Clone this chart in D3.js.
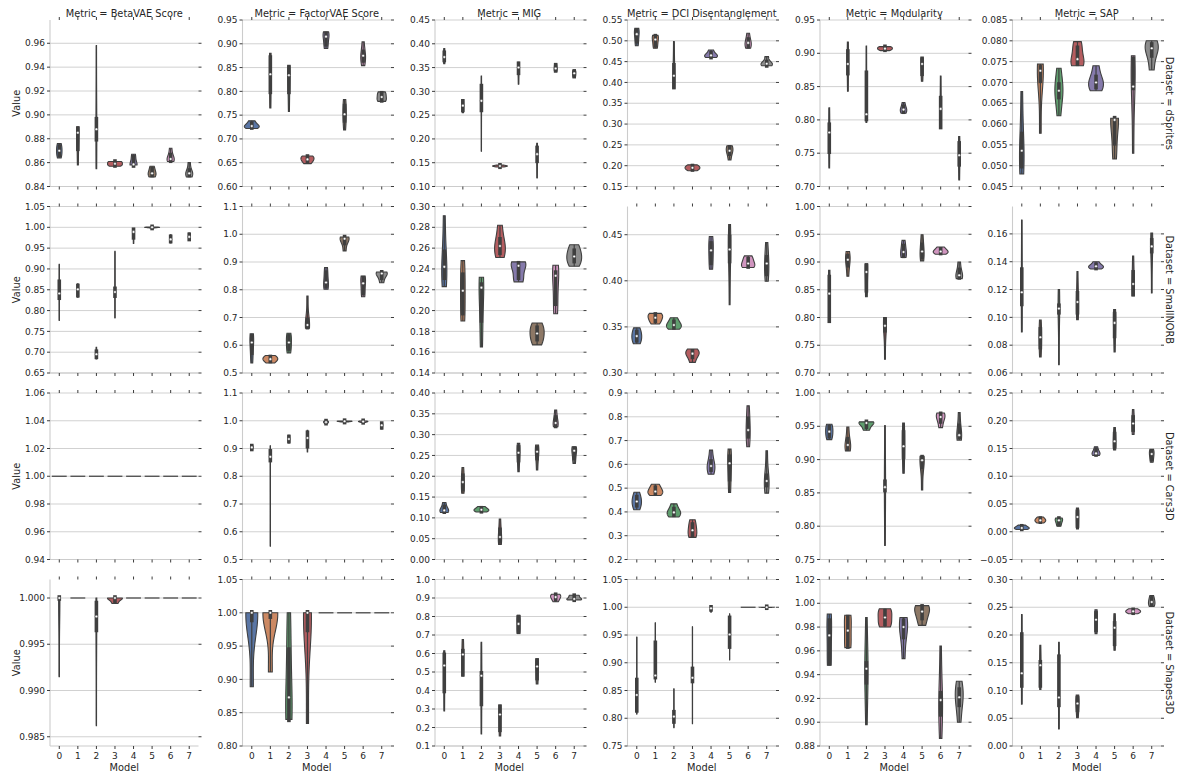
<!DOCTYPE html>
<html>
<head>
<meta charset="utf-8">
<script src="https://cdn.jsdelivr.net/npm/d3@7"></script>
<style>
  body { margin: 0; background: #fff; }
  text { font-family: "DejaVu Sans", sans-serif; fill: #262626; }
</style>
</head>
<body>
<svg id="chart" width="1177" height="775"></svg>
<script>
// categories
var models = [0, 1, 2, 3, 4, 5, 6, 7];
var metrics = ["BetaVAE Score", "FactorVAE Score", "MIG", "DCI Disentanglement", "Modularity", "SAP"];
var datasets = ["dSprites", "SmallNORB", "Cars3D", "Shapes3D"];
var palette = ["#4C72B0", "#DD8452", "#55A868", "#C44E52", "#8172B3", "#937860", "#DA8BC3", "#8C8C8C"];

// values: per model min, q1, median, q3, max
var dspBeta = [[0.864,0.867,0.870,0.873,0.876],[0.858,0.872,0.885,0.888,0.890],[0.855,0.880,0.888,0.896,0.958],[0.857,0.858,0.859,0.8605,0.861],[0.858,0.858,0.8585,0.864,0.867],[0.848,0.850,0.851,0.854,0.857],[0.861,0.862,0.863,0.866,0.872],[0.848,0.850,0.851,0.853,0.860]];
var dspFactor = [[0.722,0.725,0.727,0.731,0.738],[0.765,0.800,0.836,0.870,0.880],[0.758,0.800,0.834,0.850,0.853],[0.648,0.654,0.657,0.662,0.664],[0.890,0.900,0.915,0.920,0.925],[0.719,0.740,0.752,0.768,0.783],[0.854,0.866,0.875,0.882,0.904],[0.779,0.782,0.788,0.795,0.799]];
var dspMIG = [[0.358,0.367,0.372,0.380,0.390],[0.255,0.262,0.270,0.278,0.283],[0.174,0.262,0.280,0.310,0.332],[0.141,0.1425,0.143,0.1435,0.145],[0.315,0.340,0.350,0.357,0.361],[0.118,0.155,0.168,0.180,0.191],[0.342,0.345,0.348,0.354,0.358],[0.330,0.333,0.338,0.341,0.344]];
var dspDCI = [[0.488,0.500,0.516,0.524,0.530],[0.482,0.490,0.503,0.510,0.513],[0.386,0.390,0.416,0.440,0.498],[0.188,0.192,0.195,0.198,0.202],[0.460,0.462,0.465,0.469,0.478],[0.214,0.230,0.236,0.243,0.248],[0.482,0.488,0.495,0.502,0.518],[0.440,0.442,0.445,0.448,0.462]];
var dspMod = [[0.728,0.753,0.781,0.792,0.818],[0.843,0.871,0.884,0.902,0.917],[0.796,0.802,0.8085,0.870,0.911],[0.904,0.906,0.907,0.909,0.910],[0.810,0.813,0.8155,0.819,0.826],[0.858,0.870,0.884,0.891,0.893],[0.788,0.790,0.8165,0.832,0.866],[0.710,0.734,0.747,0.764,0.775]];
var dspSAP = [[0.048,0.050,0.0536,0.0575,0.0678],[0.0578,0.0705,0.0728,0.0735,0.0744],[0.062,0.0666,0.068,0.0694,0.0734],[0.074,0.0746,0.0756,0.0782,0.0798],[0.068,0.069,0.070,0.0712,0.074],[0.0516,0.0555,0.0610,0.0613,0.0614],[0.053,0.0688,0.0690,0.0755,0.0764],[0.073,0.0766,0.0782,0.079,0.080]];

var norbBeta = [[0.776,0.832,0.841,0.868,0.911],[0.832,0.838,0.851,0.858,0.864],[0.684,0.690,0.695,0.700,0.712],[0.782,0.837,0.8445,0.851,0.9425],[0.961,0.977,0.989,0.993,0.995],[0.9985,0.9995,1.0,1.0,1.0005],[0.9625,0.968,0.971,0.976,0.982],[0.969,0.973,0.977,0.981,0.986]];
var norbFactor = [[0.536,0.575,0.610,0.630,0.641],[0.536,0.545,0.550,0.556,0.563],[0.572,0.590,0.610,0.630,0.643],[0.661,0.667,0.673,0.690,0.777],[0.802,0.815,0.826,0.860,0.880],[0.940,0.970,0.984,0.988,0.990],[0.775,0.790,0.823,0.840,0.849],[0.825,0.845,0.8585,0.861,0.864]];
var norbMIG = [[0.223,0.232,0.242,0.256,0.291],[0.190,0.198,0.219,0.234,0.248],[0.165,0.191,0.222,0.2245,0.232],[0.251,0.256,0.262,0.268,0.282],[0.2276,0.232,0.243,0.245,0.2468],[0.167,0.173,0.178,0.183,0.188],[0.197,0.207,0.2334,0.236,0.2436],[0.2426,0.248,0.252,0.257,0.2633]];
var norbDCI = [[0.3317,0.336,0.340,0.344,0.349],[0.3532,0.357,0.360,0.363,0.3647],[0.3475,0.350,0.352,0.355,0.360],[0.3115,0.318,0.321,0.323,0.326],[0.4126,0.420,0.433,0.440,0.448],[0.374,0.422,0.434,0.447,0.461],[0.4144,0.416,0.4187,0.423,0.427],[0.3996,0.408,0.4187,0.425,0.4414]];
var norbMod = [[0.791,0.795,0.843,0.872,0.885],[0.8745,0.895,0.904,0.910,0.919],[0.8375,0.850,0.882,0.893,0.896],[0.725,0.778,0.785,0.795,0.800],[0.908,0.912,0.918,0.928,0.939],[0.902,0.910,0.919,0.930,0.949],[0.914,0.917,0.919,0.922,0.927],[0.870,0.873,0.876,0.885,0.900]];
var norbSAP = [[0.0895,0.110,0.118,0.134,0.170],[0.0715,0.079,0.0857,0.091,0.098],[0.066,0.104,0.1063,0.108,0.120],[0.0984,0.104,0.111,0.117,0.133],[0.1348,0.1358,0.1367,0.1375,0.140],[0.0751,0.087,0.096,0.102,0.1056],[0.1156,0.117,0.124,0.132,0.144],[0.1176,0.148,0.151,0.155,0.1607]];

var carsBeta = [[1,1,1,1,1],[1,1,1,1,1],[1,1,1,1,1],[1,1,1,1,1],[1,1,1,1,1],[1,1,1,1,1],[1,1,1,1,1],[1,1,1,1,1]];
var carsFactor = [[0.894,0.900,0.904,0.907,0.9116],[0.548,0.860,0.870,0.888,0.910],[0.920,0.928,0.934,0.940,0.9476],[0.8876,0.910,0.938,0.955,0.9656],[0.990,0.993,0.995,0.997,0.999],[0.996,0.997,0.998,0.9985,0.999],[0.994,0.996,0.997,0.998,0.999],[0.9704,0.978,0.984,0.988,0.992]];
var carsMIG = [[0.113,0.116,0.118,0.125,0.137],[0.1594,0.170,0.186,0.200,0.221],[0.114,0.117,0.1195,0.122,0.1275],[0.036,0.045,0.054,0.070,0.097],[0.211,0.240,0.2566,0.268,0.279],[0.215,0.245,0.259,0.266,0.275],[0.319,0.322,0.328,0.340,0.359],[0.231,0.245,0.2614,0.265,0.271]];
var carsDCI = [[0.409,0.430,0.444,0.460,0.483],[0.469,0.480,0.486,0.500,0.5166],[0.3785,0.390,0.398,0.410,0.434],[0.293,0.305,0.323,0.345,0.367],[0.5585,0.580,0.593,0.610,0.660],[0.4817,0.540,0.6045,0.630,0.664],[0.674,0.720,0.744,0.790,0.846],[0.479,0.515,0.530,0.550,0.657]];
var carsMod = [[0.930,0.936,0.942,0.948,0.953],[0.913,0.917,0.922,0.930,0.949],[0.944,0.950,0.955,0.956,0.9567],[0.771,0.855,0.8586,0.866,0.951],[0.8795,0.905,0.920,0.940,0.955],[0.8546,0.890,0.899,0.903,0.905],[0.948,0.958,0.964,0.968,0.970],[0.9293,0.935,0.9367,0.950,0.9706]];
var carsSAP = [[0.004,0.006,0.0068,0.009,0.012],[0.0157,0.019,0.0205,0.023,0.0265],[0.0098,0.015,0.0205,0.023,0.0247],[0.005,0.012,0.0265,0.035,0.0426],[0.1376,0.140,0.1412,0.146,0.153],[0.1472,0.155,0.163,0.175,0.1878],[0.1753,0.185,0.195,0.205,0.220],[0.1251,0.132,0.140,0.144,0.1484]];

var shpBeta = [[0.9915,1,1,1,1],[1,1,1,1,1],[0.9862,0.9966,0.998,0.9994,1],[0.9994,0.9997,1,1,1],[1,1,1,1,1],[1,1,1,1,1],[1,1,1,1,1],[1,1,1,1,1]];
var shpFactor = [[0.889,0.990,1,1,1],[0.911,0.995,1,1,1],[0.840,0.840,0.873,0.944,1],[0.834,0.975,1,1,1],[1,1,1,1,1],[1,1,1,1,1],[1,1,1,1,1],[1,1,1,1,1]];
var shpMIG = [[0.29,0.40,0.535,0.59,0.615],[0.478,0.49,0.595,0.61,0.675],[0.165,0.33,0.48,0.49,0.66],[0.155,0.19,0.27,0.31,0.32],[0.71,0.72,0.76,0.795,0.805],[0.435,0.47,0.53,0.56,0.57],[0.88,0.895,0.905,0.915,0.92],[0.89,0.893,0.895,0.91,0.915]];
var shpDCI = [[0.8075,0.815,0.842,0.868,0.9465],[0.865,0.875,0.877,0.935,0.972],[0.783,0.795,0.803,0.810,0.853],[0.790,0.868,0.873,0.888,0.965],[0.991,0.997,0.998,0.999,0.999],[0.905,0.930,0.951,0.980,0.988],[1,1,1,1,1],[0.9995,1,1,1,1]];
var shpMod = [[0.948,0.950,0.973,0.985,0.991],[0.9627,0.964,0.977,0.988,0.990],[0.898,0.934,0.945,0.949,0.988],[0.980,0.983,0.988,0.993,0.9954],[0.9535,0.972,0.980,0.985,0.988],[0.9814,0.988,0.993,0.997,0.998],[0.8864,0.907,0.9186,0.924,0.964],[0.900,0.915,0.921,0.927,0.9345]];
var shpSAP = [[0.0755,0.110,0.131,0.200,0.237],[0.1018,0.110,0.1456,0.150,0.1815],[0.0305,0.075,0.0875,0.160,0.187],[0.051,0.066,0.0767,0.085,0.0917],[0.2025,0.210,0.2276,0.238,0.2456],[0.1725,0.185,0.213,0.220,0.2384],[0.2384,0.241,0.2426,0.2445,0.2474],[0.2516,0.2555,0.2594,0.265,0.2713]];

// y axis limits, tick step and decimals per panel (rows = datasets, cols = metrics)
var yDomains = [
    [[0.84,0.9795],[0.60,0.95],[0.10,0.45],[0.15,0.55],[0.70,0.95],[0.045,0.085]],
    [[0.65,1.05],[0.5,1.1],[0.14,0.30],[0.30,0.4806],[0.70,1.00],[0.06,0.1797]],
    [[0.94,1.06],[0.5,1.1],[0.00,0.40],[0.2,0.9],[0.75,1.00],[-0.05,0.25]],
    [[0.984,1.002],[0.80,1.05],[0.1,1.0],[0.75,1.05],[0.88,1.02],[0.00,0.30]]
];
var yTickSteps = [
    [0.02,0.05,0.05,0.05,0.05,0.005],
    [0.05,0.1,0.02,0.05,0.05,0.02],
    [0.02,0.1,0.05,0.1,0.05,0.05],
    [0.005,0.05,0.1,0.05,0.02,0.05]
];
var yDecimals = [
    [2,2,2,2,2,3],
    [2,1,2,2,2,2],
    [2,1,2,1,2,2],
    [3,2,1,2,2,2]
];

var panels = [
    [dspBeta, dspFactor, dspMIG, dspDCI, dspMod, dspSAP],
    [norbBeta, norbFactor, norbMIG, norbDCI, norbMod, norbSAP],
    [carsBeta, carsFactor, carsMIG, carsDCI, carsMod, carsSAP],
    [shpBeta, shpFactor, shpMIG, shpDCI, shpMod, shpSAP]
];

// layout
var colLeft = 50, colGap = 192.5, panelW = 148.5;
var rowTop = 20, rowGap = 186.5, panelH = 166.5;
var gray = "#3f3f3f";
var fills = palette.map(function(c){ var h = d3.hsl(c); h.s *= 0.75; return h.formatHex(); });

var svg = d3.select("#chart");

// gaussian kde, scott bandwidth, cut at data range
function kde(vals){
    var n = vals.length;
    var bw = d3.deviation(vals) * Math.pow(n, -0.2);
    var lo = d3.min(vals), hi = d3.max(vals);
    return d3.range(100).map(function(i){
        var t = lo + (hi - lo) * i / 99;
        var s = d3.sum(vals, function(v){ return Math.exp(-0.5 * Math.pow((t - v) / bw, 2)); });
        return [t, s / (n * bw * Math.sqrt(2 * Math.PI))];
    });
}

panels.forEach(function(row, r){
    row.forEach(function(data, c){
        var left = colLeft + c * colGap, top = rowTop + r * rowGap;
        var right = left + panelW, bottom = top + panelH;
        var x = d3.scaleBand().domain(models).range([left, right]);
        var y = d3.scaleLinear().domain(yDomains[r][c]).range([bottom, top]);
        var step = yTickSteps[r][c], dom = yDomains[r][c];
        var ticks = d3.range(Math.ceil(dom[0] / step - 1e-6), Math.floor(dom[1] / step + 1e-6) + 1)
            .map(function(k){ return k * step; });
        var fmt = d3.format("." + yDecimals[r][c] + "f");
        var g = svg.append("g");

        // grid
        g.selectAll(".grid").data(ticks).enter().append("line")
            .attr("x1", left).attr("x2", right)
            .attr("y1", function(d){ return y(d); }).attr("y2", function(d){ return y(d); })
            .attr("stroke", "#cccccc").attr("stroke-width", 0.9);

        // spines
        g.append("line").attr("x1", left).attr("x2", left).attr("y1", top).attr("y2", bottom)
            .attr("stroke", "#cccccc").attr("stroke-width", 1.1);
        g.append("line").attr("x1", left).attr("x2", right).attr("y1", bottom).attr("y2", bottom)
            .attr("stroke", "#cccccc").attr("stroke-width", 1.1);

        // tick marks on all four sides
        ticks.forEach(function(t){
            g.append("line").attr("x1", left - 3).attr("x2", left).attr("y1", y(t)).attr("y2", y(t))
                .attr("stroke", "#262626").attr("stroke-width", 0.9);
            g.append("line").attr("x1", right).attr("x2", right + 3).attr("y1", y(t)).attr("y2", y(t))
                .attr("stroke", "#262626").attr("stroke-width", 0.9);
            g.append("text").attr("x", left - 5).attr("y", y(t)).attr("dy", "0.35em")
                .attr("text-anchor", "end").attr("font-size", 9).text(fmt(t));
        });
        models.forEach(function(m){
            var cx = x(m) + x.bandwidth() / 2;
            g.append("line").attr("x1", cx).attr("x2", cx).attr("y1", bottom).attr("y2", bottom + 3)
                .attr("stroke", "#262626").attr("stroke-width", 0.9);
            g.append("line").attr("x1", cx).attr("x2", cx).attr("y1", top - 3).attr("y2", top)
                .attr("stroke", "#262626").attr("stroke-width", 0.9);
            if (r === panels.length - 1) {
                g.append("text").attr("x", cx).attr("y", bottom + 12.5)
                    .attr("text-anchor", "middle").attr("font-size", 9).text(m);
            }
        });

        // violins
        var half = 0.4 * x.bandwidth();
        var dens = data.map(function(v){ return d3.max(v) > d3.min(v) ? kde(v) : null; });
        var maxD = d3.max(dens, function(d){ return d ? d3.max(d, function(p){ return p[1]; }) : 0; });

        data.forEach(function(v, i){
            var cx = x(models[i]) + x.bandwidth() / 2;
            if (!dens[i]) {
                g.append("line").attr("x1", cx - half).attr("x2", cx + half)
                    .attr("y1", y(v[0])).attr("y2", y(v[0]))
                    .attr("stroke", gray).attr("stroke-width", 1.2);
                return;
            }
            var area = d3.area()
                .y(function(p){ return y(p[0]); })
                .x0(function(p){ return cx - p[1] / maxD * half; })
                .x1(function(p){ return cx + p[1] / maxD * half; });
            g.append("path").attr("d", area(dens[i]))
                .attr("fill", fills[i]).attr("stroke", gray).attr("stroke-width", 1.1);

            var sorted = v.slice().sort(d3.ascending);
            var q1 = d3.quantile(sorted, 0.25), q2 = d3.quantile(sorted, 0.5), q3 = d3.quantile(sorted, 0.75);
            g.append("line").attr("x1", cx).attr("x2", cx)
                .attr("y1", y(sorted[0])).attr("y2", y(sorted[sorted.length - 1]))
                .attr("stroke", gray).attr("stroke-width", 1.2);
            g.append("line").attr("x1", cx).attr("x2", cx)
                .attr("y1", y(q1) + 1).attr("y2", y(q3) - 1)
                .attr("stroke", gray).attr("stroke-width", 3.6).attr("stroke-linecap", "square");
            g.append("circle").attr("cx", cx).attr("cy", y(q2)).attr("r", 1.3)
                .attr("fill", "#fff").attr("stroke", gray).attr("stroke-width", 0.4);
        });

        // labels
        if (r === 0) {
            g.append("text").attr("x", (left + right) / 2).attr("y", 17)
                .attr("text-anchor", "middle").attr("font-size", 9.8).text("Metric = " + metrics[c]);
        }
        if (r === panels.length - 1) {
            g.append("text").attr("x", (left + right) / 2).attr("y", 771)
                .attr("text-anchor", "middle").attr("font-size", 9.8).text("Model");
        }
        if (c === 0) {
            g.append("text").attr("transform", "translate(17," + (top + panelH / 2) + ") rotate(-90)")
                .attr("dy", "0.35em").attr("text-anchor", "middle").attr("font-size", 9.8).text("Value");
        }
        if (c === row.length - 1) {
            g.append("text").attr("transform", "translate(1169," + (top + panelH / 2) + ") rotate(90)")
                .attr("dy", "0.35em").attr("text-anchor", "middle").attr("font-size", 9.8)
                .text("Dataset = " + datasets[r]);
        }
    });
});
</script>
</body>
</html>
